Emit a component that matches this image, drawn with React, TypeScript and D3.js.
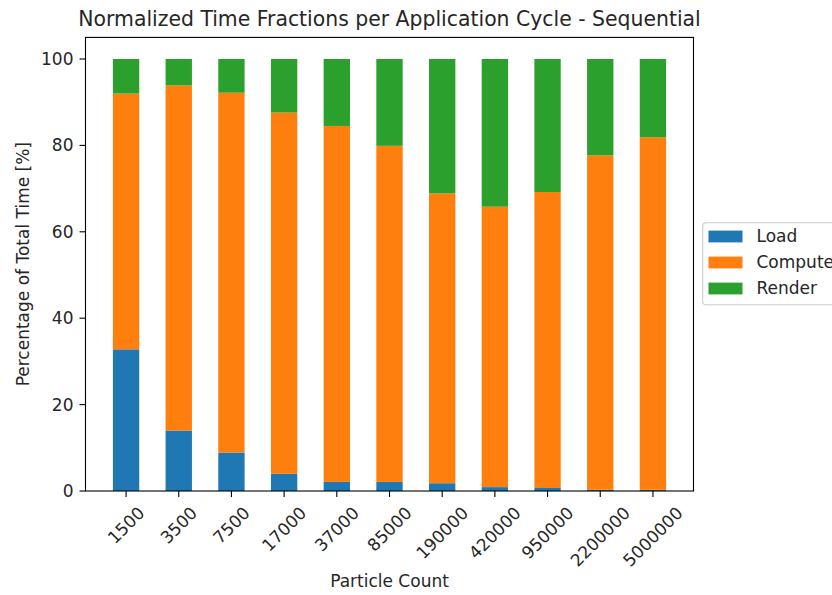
import React from "react";
import * as d3 from "d3";

const categories = ["1500", "3500", "7500", "17000", "37000", "85000", "190000", "420000", "950000", "2200000", "5000000"];
const load = [32.8, 14.0, 8.9, 4.0, 2.1, 2.1, 1.8, 0.9, 0.7, 0.3, 0.3];
const compute = [59.2, 79.9, 83.3, 83.6, 82.4, 77.8, 67.1, 64.9, 68.5, 77.4, 81.6];
const render = [8.0, 6.1, 7.8, 12.4, 15.5, 20.1, 31.1, 34.2, 30.8, 22.3, 18.1];
const seriesNames = ["Load", "Compute", "Render"];
const colors = ["#1f77b4", "#ff7f0e", "#2ca02c"];
const yTicks = [0, 20, 40, 60, 80, 100];

const W = 832;
const H = 595;
const left = 85.5;
const right = 693.5;
const top = 37.4;
const bottom = 491;
const FONT = "DejaVu Sans";
const FS = 17;

export default function App() {
  const rows = categories.map((c, i) => ({ cat: c, Load: load[i], Compute: compute[i], Render: render[i] }));
  const stacked = d3.stack<any>().keys(seriesNames)(rows);
  const x = d3.scaleBand<string>().domain(categories).range([left, right]).paddingInner(0.5).paddingOuter(0.52);
  const y = d3.scaleLinear().domain([0, 105]).range([bottom, top]);

  const digitW = 0.636 * FS;
  const textH = 1.164 * FS;
  const s45 = Math.SQRT1_2;
  const labelTop = bottom + 6 + 6;

  const legendX = 702.7;
  const legendY = 222.7;
  const rowGap = 26;

  return (
    <svg width={W} height={H} style={{ position: "absolute", left: 0, top: 0, background: "#fff" }} fontFamily={FONT}>
      <rect x={0} y={0} width={W} height={H} fill="#fff" />
      {stacked.map((s, si) => (
        <g key={s.key} fill={colors[si]}>
          {s.map((d, i) => (
            <rect
              key={i}
              x={x(categories[i])}
              width={x.bandwidth()}
              y={y(d[1])}
              height={Math.max(0, y(d[0]) - y(d[1]))}
            />
          ))}
        </g>
      ))}
      {/* spines */}
      <rect x={left} y={top} width={right - left} height={bottom - top} fill="none" stroke="#000" strokeWidth={1.1} />
      {/* y ticks */}
      {yTicks.map((t) => (
        <g key={t}>
          <line x1={left - 6} x2={left} y1={y(t)} y2={y(t)} stroke="#000" strokeWidth={1.1} />
          <text x={left - 12} y={y(t)} dy="0.35em" textAnchor="end" fontSize={FS} fill="#262626">
            {t}
          </text>
        </g>
      ))}
      {/* x ticks */}
      {categories.map((c) => {
        const cx = (x(c) as number) + x.bandwidth() / 2;
        const w = c.length * digitW;
        const bh = (w + textH) * s45;
        const cy = labelTop + bh / 2;
        return (
          <g key={c}>
            <line x1={cx} x2={cx} y1={bottom} y2={bottom + 6} stroke="#000" strokeWidth={1.1} />
            <text
              x={cx}
              y={cy}
              dy="0.35em"
              textAnchor="middle"
              fontSize={FS}
              fill="#262626"
              transform={`rotate(-45 ${cx} ${cy})`}
            >
              {c}
            </text>
          </g>
        );
      })}
      {/* axis labels */}
      <text x={(left + right) / 2} y={587} textAnchor="middle" fontSize={FS} fill="#262626">
        Particle Count
      </text>
      <text
        x={0}
        y={0}
        transform={`translate(29 ${(top + bottom) / 2}) rotate(-90)`}
        textAnchor="middle"
        fontSize={FS}
        fill="#262626"
      >
        Percentage of Total Time [%]
      </text>
      {/* title */}
      <text x={(left + right) / 2} y={26} textAnchor="middle" fontSize={20.4} fill="#262626">
        Normalized Time Fractions per Application Cycle - Sequential
      </text>
      {/* legend */}
      <rect
        x={legendX}
        y={legendY}
        width={140}
        height={82}
        rx={3.5}
        fill="#fff"
        fillOpacity={0.8}
        stroke="#cccccc"
        strokeWidth={1.1}
      />
      {seriesNames.map((n, i) => {
        const cyy = 236.5 + i * rowGap;
        return (
          <g key={n}>
            <rect x={708.5} y={cyy - 5.9} width={34} height={11.8} fill={colors[i]} />
            <text x={756.5} y={cyy} dy="0.35em" fontSize={FS} fill="#262626">
              {n}
            </text>
          </g>
        );
      })}
    </svg>
  );
}
